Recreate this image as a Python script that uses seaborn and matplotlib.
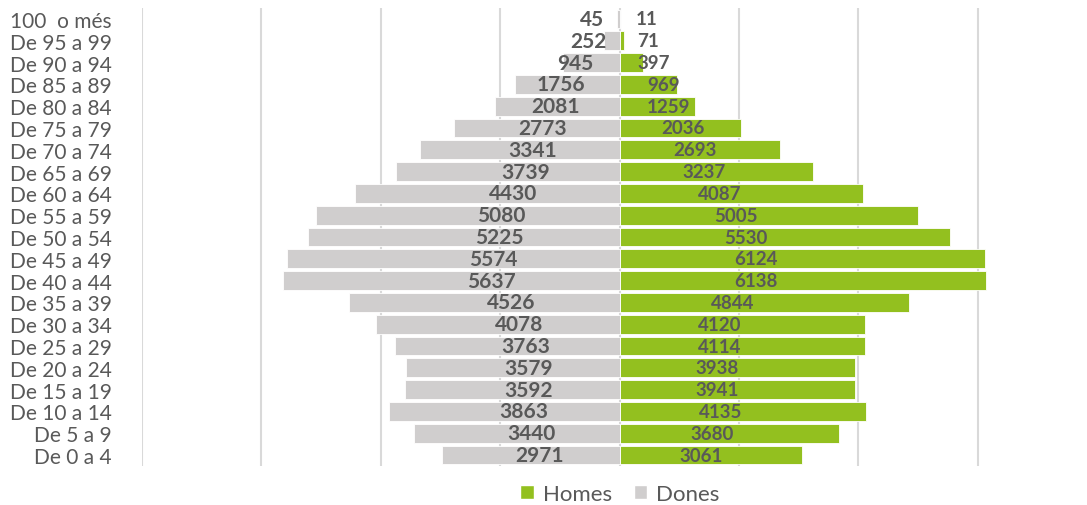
import matplotlib
matplotlib.use("Agg")
import matplotlib.pyplot as plt
from matplotlib.patches import Patch
import seaborn as sns
import pandas as pd

# Age groups, youngest first
ages = ["De 0 a 4", "De 5 a 9", "De 10 a 14", "De 15 a 19", "De 20 a 24",
        "De 25 a 29", "De 30 a 34", "De 35 a 39", "De 40 a 44", "De 45 a 49",
        "De 50 a 54", "De 55 a 59", "De 60 a 64", "De 65 a 69", "De 70 a 74",
        "De 75 a 79", "De 80 a 84", "De 85 a 89", "De 90 a 94", "De 95 a 99",
        "100  o més"]
homes = [3061, 3680, 4135, 3941, 3938, 4114, 4120, 4844, 6138, 6124, 5530,
         5005, 4087, 3237, 2693, 2036, 1259, 969, 397, 71, 11]
dones = [2971, 3440, 3863, 3592, 3579, 3763, 4078, 4526, 5637, 5574, 5225,
         5080, 4430, 3739, 3341, 2773, 2081, 1756, 945, 252, 45]

GREEN = "#93c01f"
GREY = "#d0cece"
TEXT = "#595959"

sns.set_theme(style="white")
plt.rcParams["font.family"] = ["Lato", "DejaVu Sans"]

df = pd.concat([
    pd.DataFrame({"age": ages, "value": homes, "sex": "Homes"}),
    pd.DataFrame({"age": ages, "value": [-v for v in dones], "sex": "Dones"}),
])

fig = plt.figure(figsize=(10.87, 5.06), dpi=100)
# axis spans -8000..8000; the right end runs past the figure edge
ax = fig.add_axes([142 / 1087, 1 - 467 / 506, (1097 - 142) / 1087, (467 - 9) / 506])

order = ages[::-1]
sns.barplot(data=df, y="age", x="value", hue="sex", order=order,
            hue_order=["Homes", "Dones"], palette={"Homes": GREEN, "Dones": GREY},
            dodge=False, orient="h", width=0.86, ax=ax, legend=False,
            saturation=1, edgecolor="white", linewidth=0.6)

ax.set_xlim(-8000, 8000)
ax.set_xticks(range(-8000, 8001, 2000))
ax.set_xticklabels([])
ax.xaxis.grid(True, color="#d9d9d9", linewidth=1.5)
ax.yaxis.grid(False)
ax.set_axisbelow(True)
for s in ax.spines.values():
    s.set_visible(False)
ax.tick_params(axis="both", length=0)
ax.tick_params(axis="y", pad=22, labelsize=15, labelcolor=TEXT)
ax.set_xlabel("")
ax.set_ylabel("")

# value labels inside the bars
for i, age in enumerate(order):
    k = ages.index(age)
    h, d = homes[k], dones[k]
    ax.text(0.3 * h + 450, i, str(h), ha="center", va="center",
            fontsize=13.5, fontweight="bold", color=TEXT)
    ax.text(-(0.3 * d + 450), i, str(d), ha="center", va="center",
            fontsize=15, fontweight="bold", color=TEXT)

handles = [Patch(facecolor=GREEN, label="Homes"), Patch(facecolor=GREY, label="Dones")]
fig.legend(handles=handles, loc="center", bbox_to_anchor=(620 / 1087, 1 - 495 / 506),
           ncol=2, frameon=False, fontsize=16, labelcolor=TEXT,
           handlelength=0.6, handleheight=0.6, handletextpad=0.4, columnspacing=1.0)

fig.savefig("out.png", dpi=100)
